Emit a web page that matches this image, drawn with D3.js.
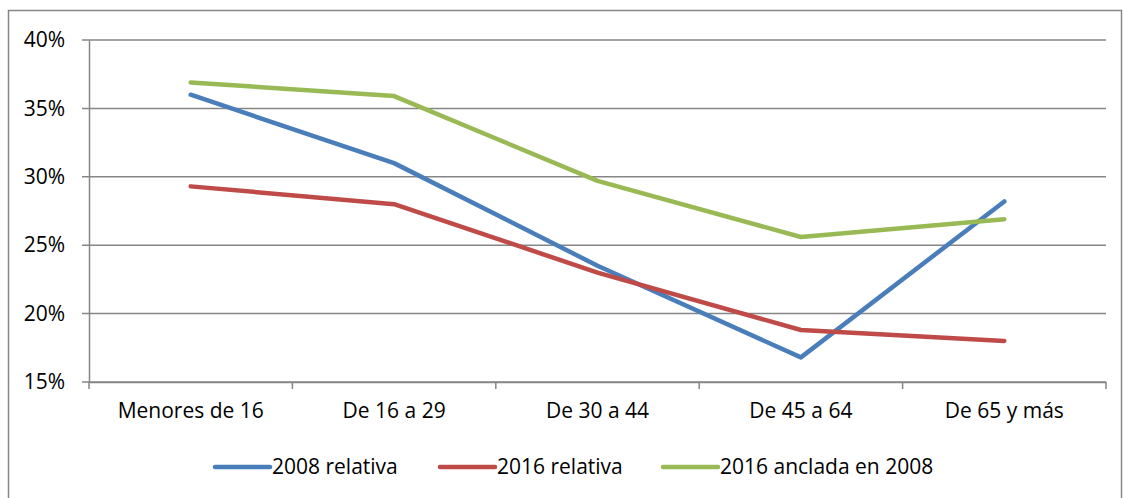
<!DOCTYPE html>
<html><head><meta charset="utf-8">
<script src="https://cdn.jsdelivr.net/npm/d3@7"></script>
<style>body{margin:0;background:#fff}svg{display:block}text{font-family:"Open Sans",sans-serif;fill:#000}</style>
</head><body>
<script>
const categories = ["Menores de 16","De 16 a 29","De 30 a 44","De 45 a 64","De 65 y más"];
const series2008rel = [0.360, 0.310, 0.235, 0.168, 0.282];
const series2016rel = [0.293, 0.280, 0.230, 0.188, 0.180];
const series2016anc = [0.369, 0.359, 0.297, 0.256, 0.269];
const seriesNames = ["2008 relativa","2016 relativa","2016 anclada en 2008"];
const yTicks = [0.15,0.20,0.25,0.30,0.35,0.40];
const colors = ["#4A7EBB","#BE4B48","#98B954"];
const FS = 21;
const FF = "Open Sans";

const W=1123,H=498;
const svg=d3.select("body").append("svg").attr("width",W).attr("height",H);
svg.append("rect").attr("x",8.5).attr("y",10.5).attr("width",1113).attr("height",500)
  .attr("fill","none").attr("stroke","#868686").attr("stroke-width",1.5);

const L=89,R=1106,T=40,B=382;
const x=d3.scaleBand().domain(categories).range([L,R]);
const y=d3.scaleLinear().domain([0.15,0.40]).range([B,T]);

// gridlines
svg.append("g").selectAll("line").data(yTicks).join("line")
  .attr("x1",82).attr("x2",R).attr("y1",d=>y(d)).attr("y2",d=>y(d))
  .attr("stroke","#868686").attr("stroke-width",1.5);

// y axis
const ya=svg.append("g").attr("transform",`translate(${L},0)`)
  .call(d3.axisLeft(y).tickValues(yTicks).tickFormat(d3.format(".0%")).tickSize(0).tickPadding(24));
ya.select(".domain").attr("stroke","#868686").attr("stroke-width",1.5);
ya.selectAll("text").attr("font-size",FS).attr("font-family",FF);

// x axis
const xa=svg.append("g").attr("transform",`translate(0,${B})`)
  .call(d3.axisBottom(x).tickSize(0).tickPadding(21));
xa.select(".domain").attr("stroke","#868686").attr("stroke-width",1.5);
xa.selectAll("text").attr("font-size",FS).attr("font-family",FF);
// category boundary ticks
const bounds=categories.map(c=>x(c)).concat([x(categories[categories.length-1])+x.bandwidth()]);
svg.append("g").selectAll("line").data(bounds).join("line")
  .attr("x1",d=>d).attr("x2",d=>d).attr("y1",B).attr("y2",B+7)
  .attr("stroke","#868686").attr("stroke-width",1.5);

const line=d3.line().x((d,i)=>x(categories[i])+x.bandwidth()/2).y(d=>y(d));
[series2008rel,series2016rel,series2016anc].forEach((s,k)=>{
  svg.append("path").datum(s).attr("d",line).attr("fill","none")
    .attr("stroke",colors[k]).attr("stroke-width",4.5).attr("stroke-linecap","round").attr("stroke-linejoin","round");
});

// legend
const legX=[215,440,663];
const lg=svg.append("g");
seriesNames.forEach((n,k)=>{
  lg.append("line").attr("x1",legX[k]).attr("x2",legX[k]+55).attr("y1",467).attr("y2",467)
    .attr("stroke",colors[k]).attr("stroke-width",4.5).attr("stroke-linecap","round");
  lg.append("text").attr("x",legX[k]+57).attr("y",467).attr("dy","0.35em").attr("font-size",FS).attr("font-family",FF).text(n);
});
</script>
</body></html>
